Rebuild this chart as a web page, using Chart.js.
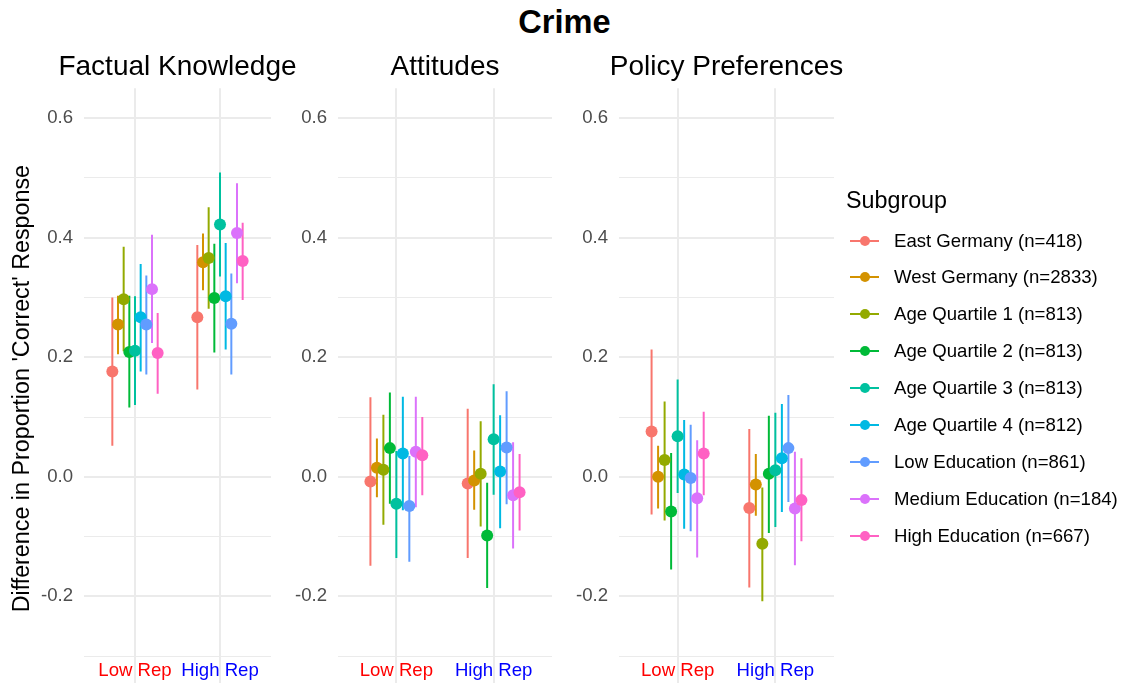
<!DOCTYPE html>
<html>
<head>
<meta charset="utf-8">
<title>Crime</title>
<script src="https://cdn.jsdelivr.net/npm/chart.js@4.4.1/dist/chart.umd.min.js"></script>
<style>
    body { margin: 0; background: #fff; font-family: "Liberation Sans", Arial, sans-serif; }
    #figure { position: relative; width: 1129px; height: 683px; overflow: hidden; background: #fff; }
    #main-title { position: absolute; left: 0; top: 4px; width: 1129px; text-align: center;
        font-weight: bold; font-size: 32.6px; line-height: 36px; color: #000; }
    .panel { position: absolute; top: 0; }
    #legend { position: absolute; left: 846px; top: 0; width: 283px; height: 683px; }
    #legend .legend-title { position: absolute; left: 0; top: 186px; font-size: 23.3px; line-height: 28px; color: #000; }
    #legend .item { position: absolute; left: 0; height: 24px; width: 283px; }
    #legend .key-line { position: absolute; left: 4px; top: 11px; width: 29px; height: 2px; }
    #legend .key-dot { position: absolute; left: 14px; top: 7px; width: 10px; height: 10px; border-radius: 50%; }
    #legend .label { position: absolute; left: 48px; top: 0; font-size: 18.6px; line-height: 24px; color: #000; white-space: nowrap; }
</style>
</head>
<body>
<div id="figure">
    <div id="main-title">Crime</div>
    <!-- canvases are centred on their plot areas so the full-width titles sit over the panels -->
    <div class="panel" style="left:0px"><canvas id="factualChart" width="355" height="695"></canvas></div>
    <div class="panel" style="left:280px"><canvas id="attitudesChart" width="330" height="695"></canvas></div>
    <div class="panel" style="left:561px"><canvas id="policyChart" width="331" height="695"></canvas></div>
    <div id="legend"></div>
</div>
<script>
// Subgroups and colours (ggplot hue palette)
const subgroups = ['East Germany (n=418)', 'West Germany (n=2833)', 'Age Quartile 1 (n=813)',
    'Age Quartile 2 (n=813)', 'Age Quartile 3 (n=813)', 'Age Quartile 4 (n=812)',
    'Low Education (n=861)', 'Medium Education (n=184)', 'High Education (n=667)'];
const subgroupColors = ['#F8766D', '#D39200', '#93AA00', '#00BA38', '#00C19F',
    '#00B9E3', '#619CFF', '#DB72FB', '#FF61C3'];

const repLevels = ['Low Rep', 'High Rep'];
const repColors = ['#FF0000', '#0000FF'];

const yMajorTicks = [-0.2, 0, 0.2, 0.4, 0.6];
const yTickLabels = ['-0.2', '0.0', '0.2', '0.4', '0.6'];
const yMinorTicks = [-0.3, -0.1, 0.1, 0.3, 0.5];

// [estimate, lower, upper] per subgroup
const factualLow = [[0.176, 0.052, 0.300], [0.255, 0.205, 0.303], [0.297, 0.210, 0.385],
    [0.209, 0.116, 0.303], [0.211, 0.120, 0.302], [0.267, 0.176, 0.356],
    [0.255, 0.171, 0.337], [0.314, 0.224, 0.405], [0.207, 0.139, 0.274]];
const factualHigh = [[0.267, 0.146, 0.388], [0.359, 0.312, 0.407], [0.366, 0.281, 0.451],
    [0.299, 0.208, 0.390], [0.422, 0.335, 0.509], [0.302, 0.213, 0.391],
    [0.256, 0.171, 0.340], [0.408, 0.324, 0.491], [0.361, 0.296, 0.425]];

const attitudesLow = [[-0.008, -0.149, 0.133], [0.015, -0.034, 0.064], [0.012, -0.080, 0.104],
    [0.048, -0.045, 0.141], [-0.045, -0.136, 0.043], [0.039, -0.056, 0.134],
    [-0.049, -0.142, 0.035], [0.042, -0.051, 0.134], [0.036, -0.031, 0.100]];
const attitudesHigh = [[-0.011, -0.136, 0.114], [-0.006, -0.055, 0.044], [0.005, -0.083, 0.093],
    [-0.098, -0.186, -0.010], [0.063, -0.030, 0.155], [0.009, -0.086, 0.103],
    [0.049, -0.046, 0.143], [-0.031, -0.120, 0.058], [-0.026, -0.090, 0.038]];

const policyLow = [[0.076, -0.063, 0.213], [0.000, -0.053, 0.052], [0.028, -0.073, 0.126],
    [-0.058, -0.155, 0.040], [0.068, -0.027, 0.163], [0.004, -0.087, 0.095],
    [-0.002, -0.091, 0.087], [-0.036, -0.135, 0.061], [0.039, -0.031, 0.109]];
const policyHigh = [[-0.052, -0.185, 0.080], [-0.013, -0.065, 0.038], [-0.112, -0.208, -0.018],
    [0.005, -0.094, 0.102], [0.011, -0.084, 0.107], [0.031, -0.059, 0.122],
    [0.048, -0.042, 0.137], [-0.053, -0.148, 0.042], [-0.039, -0.108, 0.031]];

const FONT = '"Liberation Sans", Arial, sans-serif';
const DODGE = 0.6;

document.addEventListener('DOMContentLoaded', function() {
    buildPanel('factualChart', 'Factual Knowledge', factualLow, factualHigh, 84, 84, true);
    buildPanel('attitudesChart', 'Attitudes', attitudesLow, attitudesHigh, 58, 58, false);
    buildPanel('policyChart', 'Policy Preferences', policyLow, policyHigh, 58, 58, false);
    buildLegend();
});

function dodgeOffset(i) {
    return (i - (subgroups.length - 1) / 2) * DODGE / subgroups.length;
}

function buildDatasets(low, high) {
    const datasets = [];
    subgroups.forEach((name, i) => {
        const off = dodgeOffset(i);
        // whiskers: two vertical segments split by a gap
        datasets.push({
            label: name + ' CI',
            data: [
                { x: 1 + off, y: low[i][1] }, { x: 1 + off, y: low[i][2] },
                { x: 1.5, y: null },
                { x: 2 + off, y: high[i][1] }, { x: 2 + off, y: high[i][2] }
            ],
            showLine: true,
            spanGaps: false,
            borderColor: subgroupColors[i],
            borderWidth: 2,
            pointRadius: 0,
            order: 2000 - i
        });
        datasets.push({
            label: name,
            data: [{ x: 1 + off, y: low[i][0] }, { x: 2 + off, y: high[i][0] }],
            showLine: false,
            pointRadius: 6,
            pointBorderWidth: 0,
            pointBackgroundColor: subgroupColors[i],
            pointBorderColor: subgroupColors[i],
            order: 1000 - i
        });
    });
    return datasets;
}

function buildPanel(canvasId, title, low, high, axisWidth, spacerWidth, showYTitle) {
    const ctx = document.getElementById(canvasId).getContext('2d');
    const allTicks = yMajorTicks.concat(yMinorTicks).sort((a, b) => a - b);

    new Chart(ctx, {
        type: 'scatter',
        data: { datasets: buildDatasets(low, high) },
        options: {
            responsive: false,
            animation: false,
            layout: { padding: 0 },
            plugins: {
                legend: { display: false },
                tooltip: { enabled: false },
                title: {
                    display: true,
                    text: title,
                    color: '#000',
                    font: { family: FONT, size: 28, weight: 'normal' },
                    padding: { top: 50, bottom: 4.7 }
                }
            },
            scales: {
                x: {
                    type: 'linear',
                    min: 0.4,
                    max: 2.6,
                    position: { y: -0.3 },
                    afterBuildTicks: scale => { scale.ticks = repLevels.map((r, i) => ({ value: i + 1 })); },
                    afterFit: scale => { scale.paddingLeft = 0; scale.paddingRight = 0; },
                    grid: { color: '#EBEBEB', lineWidth: 2, drawTicks: false },
                    border: { display: false },
                    ticks: {
                        padding: 4,
                        autoSkip: false,
                        maxRotation: 0,
                        color: c => repColors[c.index],
                        font: { family: FONT, size: 18.6 },
                        callback: (v, i) => repLevels[i]
                    }
                },
                y: {
                    type: 'linear',
                    min: -0.355,
                    max: 0.65,
                    afterBuildTicks: scale => { scale.ticks = allTicks.map(v => ({ value: v })); },
                    afterFit: scale => {
                        scale.width = axisWidth;
                        scale.paddingTop = 0;
                        scale.paddingBottom = 0;
                    },
                    grid: {
                        color: '#EBEBEB',
                        lineWidth: c => yMinorTicks.includes(c.tick.value) ? 1 : 2,
                        drawTicks: false
                    },
                    border: { display: false },
                    ticks: {
                        padding: 11,
                        color: '#4D4D4D',
                        font: { family: FONT, size: 18.6 },
                        callback: v => {
                            const k = yMajorTicks.findIndex(t => Math.abs(t - v) < 1e-9);
                            return k >= 0 ? yTickLabels[k] : '';
                        }
                    },
                    title: {
                        display: showYTitle,
                        text: "Difference in Proportion 'Correct' Response",
                        color: '#000',
                        font: { family: FONT, size: 23.3 },
                        padding: { top: 9, bottom: 0 }
                    }
                },
                // empty right-hand axis, only reserves space so the title centres on the panel
                spacer: {
                    type: 'linear',
                    axis: 'y',
                    position: 'right',
                    grid: { display: false },
                    border: { display: false },
                    ticks: { display: false },
                    afterFit: scale => {
                        scale.width = spacerWidth;
                        scale.paddingTop = 0;
                        scale.paddingBottom = 0;
                    }
                }
            }
        }
    });
}

function buildLegend() {
    const legend = document.getElementById('legend');
    legend.innerHTML = '<div class="legend-title">Subgroup</div>';
    subgroups.forEach((name, i) => {
        const item = document.createElement('div');
        item.className = 'item';
        item.style.top = (240.5 + i * 36.9 - 12) + 'px';
        item.innerHTML = `
            <div class="key-line" style="background:${subgroupColors[i]}"></div>
            <div class="key-dot" style="background:${subgroupColors[i]}"></div>
            <div class="label">${name}</div>
        `;
        legend.appendChild(item);
    });
}
</script>
</body>
</html>
